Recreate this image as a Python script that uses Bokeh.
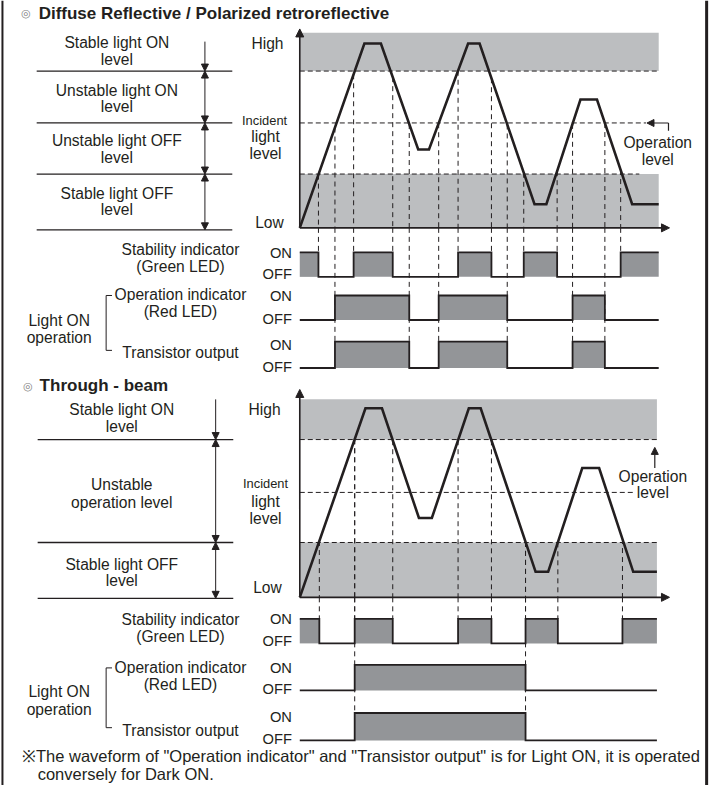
import numpy as np
from bokeh.plotting import figure
from bokeh.models import Range1d, Arrow, NormalHead
from bokeh.core.properties import value
from bokeh.embed import file_html
from bokeh.resources import INLINE

# ===================== DATA =====================
# time in arbitrary units (0..100), incident light level in % (Low = 0, High = 100)

# --- Diffuse reflective / polarized retroreflective ---
dr_time = [0, 18.0, 22.6, 33.0, 36.0, 46.9, 50.1, 65.4, 68.7, 78.2, 82.8, 92.6, 100]
dr_level = [0, 94.5, 94.5, 40.2, 40.2, 94.5, 94.5, 12.1, 12.1, 65.8, 65.8, 12.1, 12.1]
dr_stable_on_level = 80.4
dr_operation_level = 53.8
dr_stable_off_level = 27.6
dr_stability_on = [[0, 5.2], [15.0, 25.9], [44.1, 53.4], [62.4, 71.7], [89.4, 100]]
dr_operation_on = [[9.8, 30.5], [38.7, 57.8], [76.0, 85.0]]
dr_transistor_on = [[9.8, 30.5], [38.7, 57.8], [76.0, 85.0]]

# --- Through-beam ---
tb_time = [0, 18.3, 22.9, 33.2, 36.8, 47.1, 50.4, 65.7, 69.2, 78.7, 83.4, 92.9, 99.5]
tb_level = [0, 95.5, 95.5, 40.1, 40.1, 95.5, 95.5, 12.9, 12.9, 65.3, 65.3, 12.9, 12.9]
tb_stable_on_level = 79.7
tb_operation_level = 53.0
tb_stable_off_level = 27.7
tb_stability_on = [[0, 5.45], [15.3, 25.9], [44.1, 53.4], [62.9, 71.9], [89.9, 99.5]]
tb_operation_on = [[15.3, 62.9]]
tb_transistor_on = [[15.3, 62.9]]

# --- texts ---
dr_title = "Diffuse Reflective / Polarized retroreflective"
tb_title = "Through - beam"
dr_zone_labels = ["Stable light ON", "level", "Unstable light ON", "level",
                  "Unstable light OFF", "level", "Stable light OFF", "level"]
tb_zone_labels = ["Stable light ON", "level", "Unstable", "operation level",
                  "Stable light OFF", "level"]
axis_labels = ["High", "Incident", "light", "level", "Low"]
state_labels = ["ON", "OFF"]
row_labels = ["Stability indicator", "(Green LED)", "Operation indicator", "(Red LED)",
              "Light ON", "operation", "Transistor output"]
operation_labels = ["Operation", "level"]
footnote = ['\u203bThe waveform of "Operation indicator" and "Transistor output" is for Light ON, it is operated',
            'conversely for Dark ON.']

# ===================== LAYOUT / STYLE =====================
W, H = 712, 785            # figure size
REF_W, REF_H = 728, 801    # layout units (whole drawing scaled into the figure)
K = W / REF_W              # font scale
INK = "#231f20"
BAND = "#bcbec0"
FILL = "#939598"
FONT = value("Liberation Sans")


def fs(px):
    return f"{px * K:.1f}px"


T0_PX, T_PX = 306.0, 3.67          # time axis: layout position of t=0, units per time step
DR_L0_PX, DR_L_PX = 232.0, 1.99    # level axis (diffuse)
TB_L0_PX, TB_L_PX = 609.0, 2.02    # level axis (through-beam)

p = figure(width=W, height=H, x_range=Range1d(0, REF_W), y_range=Range1d(REF_H, 0),
           output_backend="svg", toolbar_location=None, title=None,
           x_axis_location=None, y_axis_location=None, min_border=0,
           background_fill_color="white", border_fill_color="white", outline_line_color=None)
p.grid.visible = False
p.extra_x_ranges = {"t": Range1d((0 - T0_PX) / T_PX, (REF_W - T0_PX) / T_PX)}
p.extra_y_ranges = {
    "dr": Range1d((DR_L0_PX - REF_H) / DR_L_PX, DR_L0_PX / DR_L_PX),
    "tb": Range1d((TB_L0_PX - REF_H) / TB_L_PX, TB_L0_PX / TB_L_PX),
}


def txt(xs, ys, texts, size=16, align="center", font=FONT, style="normal", color=INK, **kw):
    p.text(x=xs, y=ys, text=texts, text_font=font, text_font_size=fs(size), text_align=align,
           text_baseline="middle", text_font_style=style, text_color=color, **kw)


def head(size=7):
    return NormalHead(size=size, fill_color=INK, line_color=INK, line_width=1)


def step_outline(intervals, t0, t1, y_on, y_off):
    xs = [t0]
    ys = [y_on if intervals[0][0] <= t0 else y_off]
    for a, b in intervals:
        if a > t0:
            xs += [a, a]; ys += [y_off, y_on]
        if b < t1:
            xs += [b, b]; ys += [y_on, y_off]
    xs.append(t1); ys.append(ys[-1])
    return xs, ys


def section(rng, time, level, s_on, op, s_off, stab, oper, trans, lay):
    t_end = time[-1]
    # gray stable zones
    p.quad(left=[0, 0], right=[t_end, t_end], bottom=[s_on, 0], top=[100, s_off],
           x_range_name="t", y_range_name=rng, fill_color=BAND, line_color=None)
    # dashed threshold lines
    p.segment(x0=[0, 0, 0], x1=lay["thr_end"], y0=[s_on, op, s_off], y1=[s_on, op, s_off],
              x_range_name="t", y_range_name=rng, line_color=INK, line_width=1, line_dash="5 3")
    # vertical dashed transition lines
    stab_t = [v for iv in stab for v in iv if 0 < v < t_end]
    oper_t = [v for iv in oper for v in iv if 0 < v < t_end]
    all_t = stab_t + oper_t
    p.segment(x0=all_t, x1=all_t, y0=list(np.interp(all_t, time, level)), y1=[0] * len(all_t),
              x_range_name="t", y_range_name=rng, line_color=INK, line_width=1, line_dash="5 4")
    p.segment(x0=stab_t, x1=stab_t, y0=[lay["axis_px"]] * len(stab_t), y1=[lay["rows"][0][0]] * len(stab_t),
              x_range_name="t", line_color=INK, line_width=1, line_dash="5 4")
    p.segment(x0=oper_t, x1=oper_t, y0=[lay["axis_px"]] * len(oper_t), y1=[lay["rows"][2][0]] * len(oper_t),
              x_range_name="t", line_color=INK, line_width=1, line_dash="5 4")
    # axes
    p.add_layout(Arrow(end=head(8), x_start=0, y_start=0, x_end=0, y_end=lay["y_tip"],
                       x_range_name="t", y_range_name=rng, line_color=INK, line_width=1.6))
    p.add_layout(Arrow(end=head(8), x_start=0, y_start=0, x_end=lay["x_tip"], y_end=0,
                       x_range_name="t", y_range_name=rng, line_color=INK, line_width=1.6))
    # waveform
    p.line(time, level, x_range_name="t", y_range_name=rng, line_color=INK, line_width=2.6,
           line_join="miter")
    # indicator rows
    for (y_on, y_off), ivs in zip(lay["rows"], [stab, oper, trans]):
        p.quad(left=[a for a, b in ivs], right=[b for a, b in ivs], top=[y_on] * len(ivs),
               bottom=[y_off] * len(ivs), x_range_name="t", fill_color=FILL, line_color=None)
        xs, ys = step_outline(ivs, 0, t_end, y_on, y_off)
        p.line(xs, ys, x_range_name="t", line_color=INK, line_width=1.8, line_join="miter")
    # zone lines and arrows on the left
    zl = lay["zone_levels"]
    p.segment(x0=[lay["zone_x"][0]] * (len(zl) - 1), x1=[lay["zone_x"][1]] * (len(zl) - 1),
              y0=zl[1:], y1=zl[1:], y_range_name=rng, line_color=INK, line_width=1.3)
    ax = lay["arrow_x"]
    p.add_layout(Arrow(end=head(), x_start=ax, y_start=zl[0], x_end=ax, y_end=zl[1],
                       y_range_name=rng, line_color=INK, line_width=1))
    for a, b in zip(zl[1:-1], zl[2:]):
        p.add_layout(Arrow(start=head(), end=head(), x_start=ax, y_start=a, x_end=ax, y_end=b,
                           y_range_name=rng, line_color=INK, line_width=1))
    # bracket for light ON operation
    bx, by0, by1 = lay["bracket"]
    p.line([bx + 6, bx, bx, bx + 6], [by0, by0, by1, by1], line_color=INK, line_width=1)
    # ON / OFF labels
    txt([298] * 6, lay["onoff_y"], state_labels * 3, size=15, align="right")


# ---------- diffuse reflective ----------
section("dr", dr_time, dr_level, dr_stable_on_level, dr_operation_level, dr_stable_off_level,
        dr_stability_on, dr_operation_on, dr_transistor_on,
        dict(thr_end=[100, 96.5, 94.6], axis_px=232, x_tip=103, y_tip=102,
             rows=[(257, 282), (301, 326), (348, 375)],
             zone_levels=[95.5, dr_stable_on_level, dr_operation_level, dr_stable_off_level, -1],
             zone_x=(37, 237), arrow_x=209, bracket=(108, 301, 357),
             onoff_y=[258, 279, 302, 325, 352, 374]))

# ---------- through-beam ----------
section("tb", tb_time, tb_level, tb_stable_on_level, tb_operation_level, tb_stable_off_level,
        tb_stability_on, tb_operation_on, tb_transistor_on,
        dict(thr_end=[99.5, 92.9, 99.5], axis_px=609, x_tip=103, y_tip=105,
             rows=[(631, 656), (678, 704), (727, 755)],
             zone_levels=[100, tb_stable_on_level, tb_stable_off_level, -0.5],
             zone_x=(38, 238), arrow_x=220, bracket=(108, 681, 742),
             onoff_y=[631, 654, 681, 703, 731, 754]))

# operation level pointers
p.add_layout(Arrow(end=head(7), x_start=683, y_start=125, x_end=661, y_end=125,
                   line_color=INK, line_width=1.2))
p.line([683, 683], [125, 133], line_color=INK, line_width=1.2)
p.add_layout(Arrow(end=head(7), x_start=669, y_start=477, x_end=669, y_end=456,
                   line_color=INK, line_width=1.2))
txt([672, 672], [145, 162], operation_labels)
txt([667, 667], [486, 502], operation_labels)

# titles
txt([26, 28], [13, 393], ["\u25ce", "\u25ce"], size=11, color="#808080")
txt([39], [13], [dr_title], size=17.4, align="left", style="bold")
txt([40], [393], [tb_title], size=17.4, align="left", style="bold")

# zone labels
txt([119] * 8, [43, 60, 92, 108, 143, 160, 197, 213], dr_zone_labels)
txt([124] * 6, [417, 435, 494, 512, 575, 592], tb_zone_labels)

# axis labels
txt([273], [44], [axis_labels[0]]); txt([270], [122], [axis_labels[1]], size=13.2)
txt([271, 271], [139, 156], axis_labels[2:4]); txt([275], [227], [axis_labels[4]])
txt([270], [417], [axis_labels[0]]); txt([271], [493], [axis_labels[1]], size=13.2)
txt([271, 271], [511, 529], axis_labels[2:4]); txt([273], [599], [axis_labels[4]])

# row labels
txt([184, 184, 184, 184, 60, 60, 184], [254, 271, 300, 317, 327, 344, 359], row_labels)
txt([184, 184, 184, 184, 60, 60, 184], [632, 649, 681, 698, 705, 723, 745], row_labels)

# footnote
txt([22], [771], [footnote[0]], size=16.9, align="left")
txt([38], [789], [footnote[1]], size=16.9, align="left")

# frame
p.segment(x0=[2, 722], x1=[2, 722], y0=[0, 0], y1=[REF_H, REF_H], line_color=INK, line_width=[2, 3])

open("out.html", "w").write(file_html(p, INLINE))
